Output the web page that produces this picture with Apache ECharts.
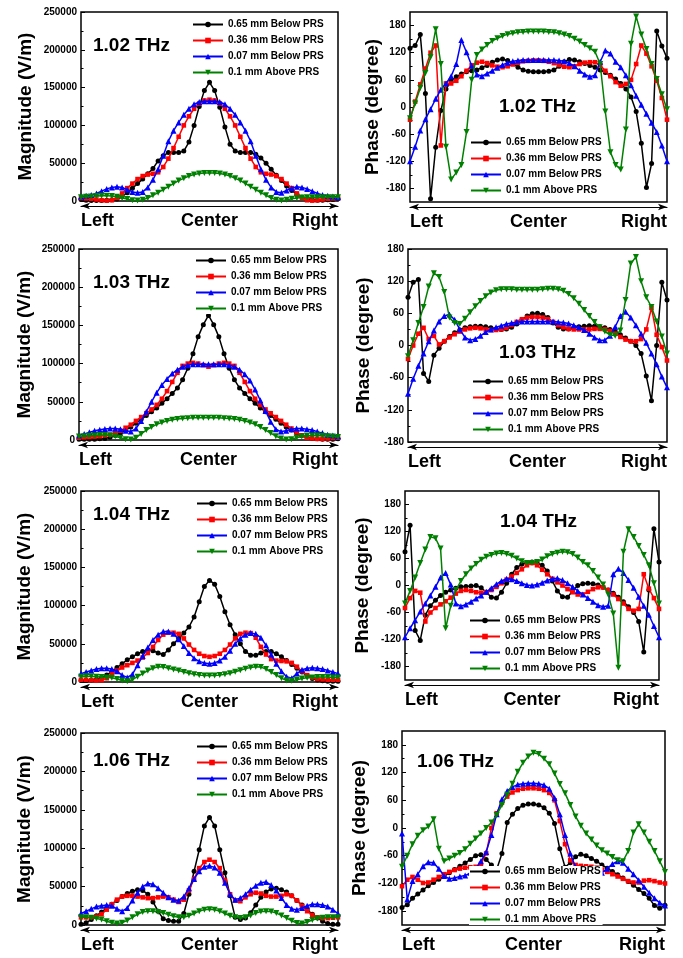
<!DOCTYPE html>
<html>
<head>
<meta charset="utf-8">
<title>Field magnitude and phase across the PRS</title>
<script src="https://cdn.jsdelivr.net/npm/echarts@6/dist/echarts.min.js"></script>
<style>
  html, body { margin: 0; padding: 0; background: #ffffff; }
  #chart { width: 683px; height: 958px; }
</style>
</head>
<body>
<div id="chart"></div>
<script>
// ---- labels ----
const seriesNames = ['0.65 mm Below PRS', '0.36 mm Below PRS', '0.07 mm Below PRS', '0.1 mm Above PRS'];
const frequencies = ['1.02 THz', '1.03 THz', '1.04 THz', '1.06 THz'];
const sideLabels = ['Left', 'Center', 'Right'];
const magnitudeTicks = [0, 50000, 100000, 150000, 200000, 250000];
const phaseTicks = [-180, -120, -60, 0, 60, 120, 180];
const phaseMinorTicks = [-150, -90, -30, 30, 90, 150];

// ---- 1.02 THz magnitude (V/m) ----
const mag102_065 = [
  2000, 1000, 500, 500, 500, 1000, 1500, 2500, 6000, 11000,
  17000, 23000, 29000, 36000, 43000, 53000, 60000, 64000, 64000, 64000,
  66000, 78000, 100000, 125000, 146000, 157000, 146000, 124000, 98000, 75000,
  66000, 64000, 64000, 64000, 62000, 57000, 50000, 42000, 34000, 27000,
  20000, 14000, 9000, 5000, 2500, 1500, 1000, 1000, 1500, 2000,
  3000];
const mag102_036 = [
  4000, 3500, 3000, 2000, 1000, 500, 1000, 4000, 10000, 17000,
  23000, 29000, 33000, 35000, 36000, 38000, 45000, 56000, 70000, 85000,
  100000, 112000, 122000, 129000, 133000, 134000, 133000, 129000, 122000, 112000,
  100000, 85000, 70000, 56000, 45000, 38000, 36000, 35000, 33000, 29000,
  23000, 17000, 10000, 4000, 1000, 500, 1000, 2000, 3000, 3500,
  4000];
const mag102_007 = [
  6000, 7000, 8000, 10000, 13000, 16000, 18000, 19000, 18000, 15000,
  12000, 11000, 12000, 18000, 28000, 42000, 60000, 79000, 93000, 104000,
  114000, 122000, 128000, 131000, 132000, 132000, 132000, 131000, 128000, 122000,
  114000, 104000, 93000, 79000, 60000, 42000, 28000, 18000, 12000, 11000,
  14000, 17000, 19000, 18000, 16000, 13000, 10000, 8000, 7000, 6000,
  5000];
const mag102_above = [
  5000, 5500, 6000, 6500, 7000, 7000, 6500, 5500, 4000, 2500,
  1000, 500, 1500, 4000, 7500, 11000, 15000, 19000, 23000, 27000,
  30000, 33000, 35000, 36500, 37000, 37000, 37000, 36500, 35000, 33000,
  30000, 27000, 23000, 19000, 15000, 11000, 7500, 4000, 1500, 500,
  1500, 3000, 4000, 4500, 5000, 5000, 5000, 5000, 5000, 5000,
  5000];

// ---- 1.02 THz phase (degree) ----
const ph102_065 = [
  130, 136, 160, 30, -203, -89, -8, 40, 58, 67,
  73, 78, 80, 82, 87, 92, 99, 104, 106, 103,
  96, 88, 82, 79, 78, 78, 78, 79, 82, 90,
  100, 105, 104, 100, 96, 92, 88, 82, 76, 70,
  62, 52, 40, 22, -10, -80, -178, -125, 168, 135,
  108];
const ph102_036 = [
  -28, 12, 50, 85, 120, 136, -85, 52, 52, 58,
  68, 80, 92, 98, 100, 97, 92, 89, 88, 90,
  94, 98, 101, 102, 103, 103, 102, 100, 97, 93,
  89, 88, 90, 95, 98, 99, 99, 92, 80, 68,
  55, 47, 51, 60, 95, 136, 118, 90, 58, 20,
  -28];
const ph102_007 = [
  -120, -88, -52, -27, -5, 18, 38, 52, 68, 95,
  148, 121, 91, 72, 68, 74, 80, 87, 93, 98,
  101, 103, 104, 104, 104, 104, 104, 104, 104, 103,
  101, 97, 90, 80, 72, 67, 70, 100, 125, 118,
  100, 88, 70, 48, 25, 5, -15, -35, -55, -85,
  -120];
const ph102_above = [
  -25, 8, 42, 75, 110, 172, 95, -88, -160, -145,
  -128, -55, 60, 115, 127, 137, 146, 152, 157, 161,
  163, 165, 166, 167, 167, 167, 167, 166, 165, 163,
  160, 157, 151, 145, 137, 130, 122, 95, -10, -100,
  -128, -138, -50, 140, 200, 160, 128, 95, 62, 28,
  -5];

// ---- 1.03 THz magnitude (V/m) ----
const mag103_065 = [
  1000, 1000, 1000, 1000, 1500, 2000, 3500, 6000, 9000, 13000,
  17000, 22000, 27000, 32000, 37000, 42000, 48000, 54000, 61000, 68000,
  79000, 94000, 113000, 135000, 151000, 163000, 151000, 135000, 113000, 94000,
  79000, 68000, 61000, 54000, 48000, 42000, 37000, 32000, 27000, 22000,
  17000, 13000, 9000, 6000, 3500, 2000, 1500, 1000, 1000, 1000,
  1500];
const mag103_036 = [
  3000, 3500, 4000, 4500, 5000, 6000, 7000, 9000, 12000, 16000,
  20000, 25000, 30000, 35000, 40000, 46000, 54000, 64000, 76000, 88000,
  97000, 100000, 101000, 100000, 98000, 96000, 98000, 100000, 101000, 100000,
  97000, 88000, 76000, 64000, 54000, 46000, 40000, 35000, 30000, 25000,
  20000, 15000, 10000, 6000, 3000, 2000, 1500, 1500, 2000, 2500,
  3000];
const mag103_007 = [
  6000, 8000, 10000, 12000, 13500, 14500, 15000, 15000, 14000, 12000,
  11000, 15000, 25000, 37000, 50000, 62000, 72000, 80000, 87000, 92000,
  96000, 98000, 99000, 99000, 99000, 99000, 99000, 99000, 99000, 98000,
  96000, 92000, 86000, 78000, 66000, 52000, 38000, 24000, 14000, 11000,
  12000, 14000, 15000, 15000, 14000, 13000, 11000, 9000, 7000, 6000,
  5000];
const mag103_above = [
  4500, 5000, 5500, 6000, 6500, 6500, 6000, 5000, 3000, 1000,
  500, 3000, 8000, 13000, 17000, 20500, 23000, 25000, 26500, 27500,
  28000, 28500, 29000, 29000, 29000, 29000, 29000, 29000, 28500, 28000,
  27500, 26500, 25000, 23000, 20500, 17000, 13000, 9000, 5000, 2000,
  500, 1000, 3000, 4500, 5500, 6000, 6000, 5500, 5000, 4500,
  4000];

// ---- 1.03 THz phase (degree) ----
const ph103_065 = [
  90, 118, 123, -52, -67, -18, -5, 8, 17, 24,
  29, 33, 35, 36, 36, 35, 33, 31, 30, 31,
  34, 40, 48, 55, 59, 60, 58, 52, 42, 34,
  31, 31, 33, 35, 36, 37, 36, 35, 33, 30,
  26, 20, 14, 8, 0, -15, -57, -103, 0, 118,
  85];
const ph103_036 = [
  -25, 0, 22, 33, 12, 18, 2, 8, 15, 21,
  26, 30, 32, 33, 32, 30, 29, 29, 30, 33,
  38, 44, 49, 52, 53, 53, 52, 49, 44, 38,
  34, 31, 30, 30, 30, 30, 31, 31, 30, 27,
  22, 16, 11, 8, 8, 12, 30, 70, 20, -3,
  -28];
const ph103_007 = [
  -90, -62, -38, -15, 8, 28, 45, 55, 58, 48,
  30, 15, 10, 12, 18, 25, 30, 34, 37, 40,
  42, 44, 45, 45, 45, 45, 45, 45, 45, 44,
  43, 41, 38, 34, 29, 22, 15, 10, 10, 18,
  35, 55, 63, 52, 38, 22, 5, -15, -35, -58,
  -78];
const ph103_above = [
  -20, 10, 42, 72, 110, 135, 128, 100, 52, 42,
  40, 50, 62, 73, 83, 92, 99, 103, 105, 105,
  105, 104, 104, 104, 104, 104, 105, 106, 106, 105,
  102, 96, 88, 78, 66, 55, 44, 34, 26, 20,
  18, 28, 85, 153, 165, 120, 90, 72, 45, 17,
  -15];

// ---- 1.04 THz magnitude (V/m) ----
const mag104_065 = [
  2000, 2000, 2500, 3500, 5500, 9000, 14000, 19000, 24000, 29000,
  33000, 37000, 40000, 42000, 41000, 38000, 36000, 42000, 50000, 57000,
  64000, 72000, 85000, 105000, 125000, 133000, 128000, 112000, 92000, 75000,
  62000, 50000, 40000, 35000, 35000, 38000, 40000, 40000, 37000, 33000,
  28000, 23000, 18000, 13000, 8000, 4500, 2500, 1500, 1000, 1000,
  1000];
const mag104_036 = [
  3000, 3000, 2500, 2000, 2500, 5000, 10000, 15000, 19000, 22000,
  25000, 28000, 32000, 38000, 46000, 55000, 62000, 64500, 64500, 63000,
  57000, 49000, 42000, 37000, 34000, 33000, 34000, 37000, 42000, 49000,
  57000, 63000, 64500, 64000, 58000, 46000, 36000, 30000, 28000, 27500,
  27000, 25000, 20000, 14000, 9000, 6000, 4000, 3500, 3000, 3000,
  3000];
const mag104_007 = [
  11000, 13000, 15000, 17000, 18000, 18000, 17000, 14000, 9000, 6000,
  10000, 22000, 34000, 45000, 55000, 62000, 66000, 66000, 63000, 56000,
  47000, 38000, 31000, 27000, 25000, 24000, 25000, 28000, 33000, 41000,
  50000, 57000, 62000, 64000, 63000, 58000, 48000, 36000, 24000, 14000,
  7000, 5000, 11000, 16000, 18000, 18500, 18000, 17000, 15000, 13000,
  11000];
const mag104_above = [
  7000, 7500, 7500, 7000, 6500, 6000, 5500, 4000, 2000, 1000,
  3000, 7000, 11000, 15000, 18000, 20000, 19500, 18000, 16500, 15000,
  13000, 11500, 10000, 9000, 8500, 8500, 8500, 9000, 10000, 11500,
  13500, 15500, 17500, 19000, 20000, 19500, 17000, 13000, 9000, 5000,
  2000, 1500, 3000, 4500, 5500, 6000, 6500, 6500, 6500, 6000,
  6000];

// ---- 1.04 THz phase (degree) ----
const ph104_065 = [
  75, 134, -100, -122, -66, -45, -33, -22, -15, -10,
  -6, -3, -2, -1, 0, -5, -15, -26, -28, -15,
  5, 25, 40, 47, 51, 52, 50, 45, 32, 10,
  -12, -25, -26, -12, 0, 4, 5, 4, 1, -4,
  -10, -17, -26, -36, -47, -60, -80, -148, -10, 126,
  52];
const ph104_036 = [
  -50, -28, -12, -16, -80, -60, -50, -42, -35, -27,
  -18, -12, -10, -12, -15, -16, -15, -10, -3, 5,
  13, 20, 28, 36, 45, 50, 45, 35, 25, 15,
  7, 0, -8, -15, -20, -20, -14, -8, -4, -4,
  -10, -20, -30, -40, -52, -56, -52, 25, -7, -28,
  -52];
const ph104_007 = [
  -115, -95, -77, -58, -40, -22, -3, 18, 28, 2,
  -40, -46, -42, -36, -29, -22, -14, -6, 3, 10,
  15, 14, 10, 5, 1, 0, 2, 6, 11, 15,
  16, 12, 5, -3, -12, -20, -28, -36, -44, -47,
  -45, 25, 37, 28, 12, -5, -25, -45, -65, -90,
  -115];
const ph104_above = [
  -40, -12, 18, 50, 80, 108, 105, 82, -95, -45,
  -10, 10, 25, 38, 48, 57, 64, 68, 71, 72,
  70, 66, 60, 54, 50, 50, 52, 58, 65, 70,
  73, 75, 74, 70, 62, 52, 45, 32, 18, 2,
  -20, -62, -183, 75, 125, 108, 88, 68, 45, 5,
  -40];

// ---- 1.06 THz magnitude (V/m) ----
const mag106_065 = [
  1000, 3000, 7000, 12000, 17000, 22000, 27000, 32000, 37000, 41000,
  44000, 46000, 45000, 40000, 30000, 18000, 8000, 6000, 5000, 5000,
  15000, 40000, 70000, 98000, 129000, 140000, 129000, 98000, 68000, 38000,
  10000, 7000, 9000, 16000, 26000, 36000, 43000, 47000, 48000, 46000,
  43000, 38000, 32000, 26000, 20000, 14000, 9000, 5000, 2000, 1000,
  1000];
const mag106_036 = [
  10000, 10000, 10000, 11000, 14000, 20000, 27000, 33000, 37000, 38000,
  38000, 37000, 36000, 35000, 35000, 36000, 37000, 36000, 33000, 30000,
  33000, 45000, 60000, 74000, 82000, 85000, 82000, 74000, 58000, 40000,
  32000, 31000, 36000, 40000, 42000, 41000, 38000, 37000, 37000, 38000,
  40000, 38000, 32000, 25000, 18000, 13000, 10000, 9000, 9000, 9500,
  10000];
const mag106_007 = [
  15000, 18000, 21000, 24000, 25000, 26000, 25000, 21000, 18000, 22000,
  32000, 42000, 50000, 54000, 53000, 48000, 42000, 36000, 33000, 32000,
  37000, 48000, 60000, 70000, 76000, 77000, 75000, 68000, 55000, 40000,
  33000, 35000, 40000, 46000, 51000, 55000, 56000, 52000, 45000, 35000,
  26000, 21000, 20000, 22000, 25000, 27000, 27000, 26000, 24000, 20000,
  15000];
const mag106_above = [
  10000, 10000, 9500, 8500, 7000, 5000, 3000, 2000, 3000, 6000,
  10000, 14000, 17000, 18000, 18000, 17000, 15500, 13500, 11500, 10000,
  10000, 12000, 15000, 18000, 20000, 20500, 20000, 18000, 15000, 12000,
  10000, 9000, 10000, 12500, 15500, 17500, 18000, 17500, 15500, 12500,
  9000, 5500, 2500, 2000, 4000, 6500, 8500, 9500, 10000, 10000,
  10000];

// ---- 1.06 THz phase (degree) ----
const ph106_065 = [
  -172, -166, -152, -143, -134, -125, -118, -111, -104, -97,
  -90, -83, -76, -68, -60, -58, -68, -80, -90, -55,
  12, 30, 42, 49, 52, 52, 50, 44, 32, 10,
  -45, -85, -75, -62, -57, -60, -66, -72, -80, -87,
  -94, -101, -108, -116, -124, -133, -142, -152, -168, -174,
  -167];
const ph106_036 = [
  -126, -112, -106, -112, -119, -118, -112, -106, -100, -95,
  -91, -88, -86, -85, -84, -78, -55, 0, 32, 55,
  68, 77, 82, 85, 86, 86, 85, 82, 76, 60,
  15, -35, -70, -80, -82, -83, -84, -86, -90, -95,
  -100, -105, -110, -115, -118, -118, -114, -113, -115, -118,
  -120];
const ph106_007 = [
  -12, -155, -115, -100, -83, -74, -75, -88, -104, -110,
  -108, -105, -103, -97, -88, -72, -52, -15, 30, 62,
  80, 89, 94, 96, 97, 97, 96, 93, 85, 65,
  30, -15, -55, -85, -99, -106, -107, -104, -97, -88,
  -78, -72, -75, -88, -100, -113, -127, -140, -152, -162,
  -168];
const ph106_above = [
  -84, -60, -35, -17, -5, 3, 19, -45, -72, -66,
  -60, -54, -46, -34, -23, -12, 0, 12, 28, 50,
  72, 96, 122, 141, 155, 163, 160, 150, 138, 118,
  95, 75, 50, 25, 5, -12, -25, -38, -48, -55,
  -63, -70, -72, -50, -10, 8, -10, -30, -50, -72,
  -95];

// ---- which curves go into which panel (row by row, magnitude then phase) ----
const panelData = [
  { kind: 'mag',   freq: 0, curves: [mag102_065, mag102_036, mag102_007, mag102_above] },
  { kind: 'phase', freq: 0, curves: [ph102_065, ph102_036, ph102_007, ph102_above] },
  { kind: 'mag',   freq: 1, curves: [mag103_065, mag103_036, mag103_007, mag103_above] },
  { kind: 'phase', freq: 1, curves: [ph103_065, ph103_036, ph103_007, ph103_above] },
  { kind: 'mag',   freq: 2, curves: [mag104_065, mag104_036, mag104_007, mag104_above] },
  { kind: 'phase', freq: 2, curves: [ph104_065, ph104_036, ph104_007, ph104_above] },
  { kind: 'mag',   freq: 3, curves: [mag106_065, mag106_036, mag106_007, mag106_above] },
  { kind: 'phase', freq: 3, curves: [ph106_065, ph106_036, ph106_007, ph106_above] }
];

// ---- layout of each panel (pixels) ----
const panelLayout = [
  { box: [81, 12, 257, 189],  legend: [192, 19],  title: [93, 36],   nameGap: 46, yRange: [0, 250000] },
  { box: [410, 12, 257, 190], legend: [470, 137], title: [499, 97],  nameGap: 28, yRange: [-210, 210] },
  { box: [79, 249, 259, 191], legend: [195, 255], title: [93, 273],  nameGap: 45, yRange: [0, 250000] },
  { box: [408, 249, 259, 193], legend: [472, 376], title: [499, 343], nameGap: 35, yRange: [-180, 180] },
  { box: [81, 491, 257, 191], legend: [196, 498], title: [93, 505],  nameGap: 47, yRange: [0, 250000] },
  { box: [405, 491, 254, 189], legend: [469, 615], title: [500, 512], nameGap: 33, yRange: [-210, 210] },
  { box: [81, 733, 257, 192], legend: [196, 741], title: [93, 751],  nameGap: 47, yRange: [0, 250000] },
  { box: [402, 731, 263, 194], legend: [469, 866], title: [417, 752], nameGap: 33, yRange: [-210, 210] }
];

const FONT = '"Liberation Sans", Arial, Helvetica, sans-serif';
const curveStyles = [
  { color: '#000000', symbol: 'circle',   size: 5,   rotate: 0 },
  { color: '#ff0000', symbol: 'rect',     size: 4.6, rotate: 0 },
  { color: '#0000ff', symbol: 'triangle', size: 6,   rotate: 0 },
  { color: '#008000', symbol: 'triangle', size: 6,   rotate: 180 }
];

const grid = [], xAxis = [], yAxis = [], series = [], legend = [], title = [];

panelLayout.forEach((lay, g) => {
  const pd = panelData[g];
  const lastIndex = pd.curves[0].length - 1;
  const half = lastIndex / 2;

  grid.push({
    left: lay.box[0], top: lay.box[1], width: lay.box[2], height: lay.box[3],
    show: true, borderColor: '#000', borderWidth: 1.5, backgroundColor: 'transparent'
  });

  xAxis.push({
    gridIndex: g, type: 'value', min: 0, max: lastIndex, interval: half, offset: 5,
    axisLine: { show: true, onZero: false, lineStyle: { color: '#000', width: 1.2 },
                symbol: ['arrow', 'arrow'], symbolSize: [5, 9] },
    axisTick: { show: false },
    splitLine: { show: false },
    axisLabel: {
      fontFamily: FONT, fontSize: 18, fontWeight: 'bold', color: '#000', margin: 6,
      showMinLabel: true, showMaxLabel: true,
      alignMinLabel: 'left', alignMaxLabel: 'right',
      formatter: v => sideLabels[Math.round(v / half)]
    }
  });

  const nameStyle = { fontFamily: FONT, fontSize: 19, fontWeight: 'bold', color: '#000' };
  const labelStyle = { fontFamily: FONT, fontSize: 10, fontWeight: 'bold', color: '#000', margin: 4 };
  let mainY;
  if (pd.kind === 'mag') {
    mainY = yAxis.length;
    yAxis.push({
      gridIndex: g, type: 'value', position: 'left',
      min: magnitudeTicks[0], max: magnitudeTicks[magnitudeTicks.length - 1],
      interval: magnitudeTicks[1] - magnitudeTicks[0],
      axisLine: { show: false },
      axisTick: { show: true, inside: true, length: 4, lineStyle: { color: '#000', width: 1 } },
      minorTick: { show: true, splitNumber: 2, length: 2.5, lineStyle: { color: '#000', width: 1 } },
      splitLine: { show: false },
      axisLabel: Object.assign({ formatter: v => String(v) }, labelStyle),
      name: 'Magnitude (V/m)', nameLocation: 'middle', nameGap: lay.nameGap, nameTextStyle: nameStyle
    });
  } else {
    mainY = yAxis.length;
    yAxis.push({
      gridIndex: g, type: 'value', position: 'left',
      min: lay.yRange[0], max: lay.yRange[1],
      axisLine: { show: false },
      axisTick: { show: true, inside: true, length: 4, customValues: phaseTicks,
                  lineStyle: { color: '#000', width: 1 } },
      splitLine: { show: false },
      axisLabel: Object.assign({ customValues: phaseTicks, formatter: v => String(v) }, labelStyle),
      name: 'Phase (degree)', nameLocation: 'middle', nameGap: lay.nameGap, nameTextStyle: nameStyle
    });
    yAxis.push({
      gridIndex: g, type: 'value', position: 'left', offset: 0,
      min: lay.yRange[0], max: lay.yRange[1],
      axisLine: { show: false },
      axisLabel: { show: false },
      splitLine: { show: false },
      axisTick: { show: true, inside: true, length: 2.5, customValues: phaseMinorTicks,
                  lineStyle: { color: '#000', width: 1 } }
    });
  }

  pd.curves.forEach((values, k) => {
    const st = curveStyles[k];
    series.push({
      type: 'line', name: seriesNames[k],
      xAxisIndex: g, yAxisIndex: mainY,
      data: values.map((v, i) => [i, v]),
      symbol: st.symbol, symbolSize: st.size, symbolRotate: st.rotate,
      showSymbol: true, showAllSymbol: true,
      lineStyle: { color: st.color, width: 1.5 },
      itemStyle: { color: st.color },
      emphasis: { disabled: true },
      silent: true, animation: false, z: 2 + k
    });
  });

  // legend box is opaque, so curves running underneath are hidden by it
  legend.push({
    left: lay.legend[0], top: lay.legend[1], orient: 'vertical',
    itemWidth: 30, itemHeight: 7, itemGap: 5, padding: [0, 2, 0, 0], selectedMode: false,
    backgroundColor: '#ffffff', z: 10,
    data: seriesNames,
    textStyle: { fontFamily: FONT, fontSize: 10, fontWeight: 'bold', color: '#000', lineHeight: 11 }
  });

  title.push({
    text: frequencies[pd.freq], left: lay.title[0], top: lay.title[1], padding: 0,
    textStyle: { fontFamily: FONT, fontSize: 19, fontWeight: 'bold', color: '#000' }
  });
});

const chart = echarts.init(document.getElementById('chart'), null, { renderer: 'canvas' });
chart.setOption({
  animation: false,
  backgroundColor: '#ffffff',
  title, legend, grid, xAxis, yAxis, series
});
</script>
</body>
</html>
